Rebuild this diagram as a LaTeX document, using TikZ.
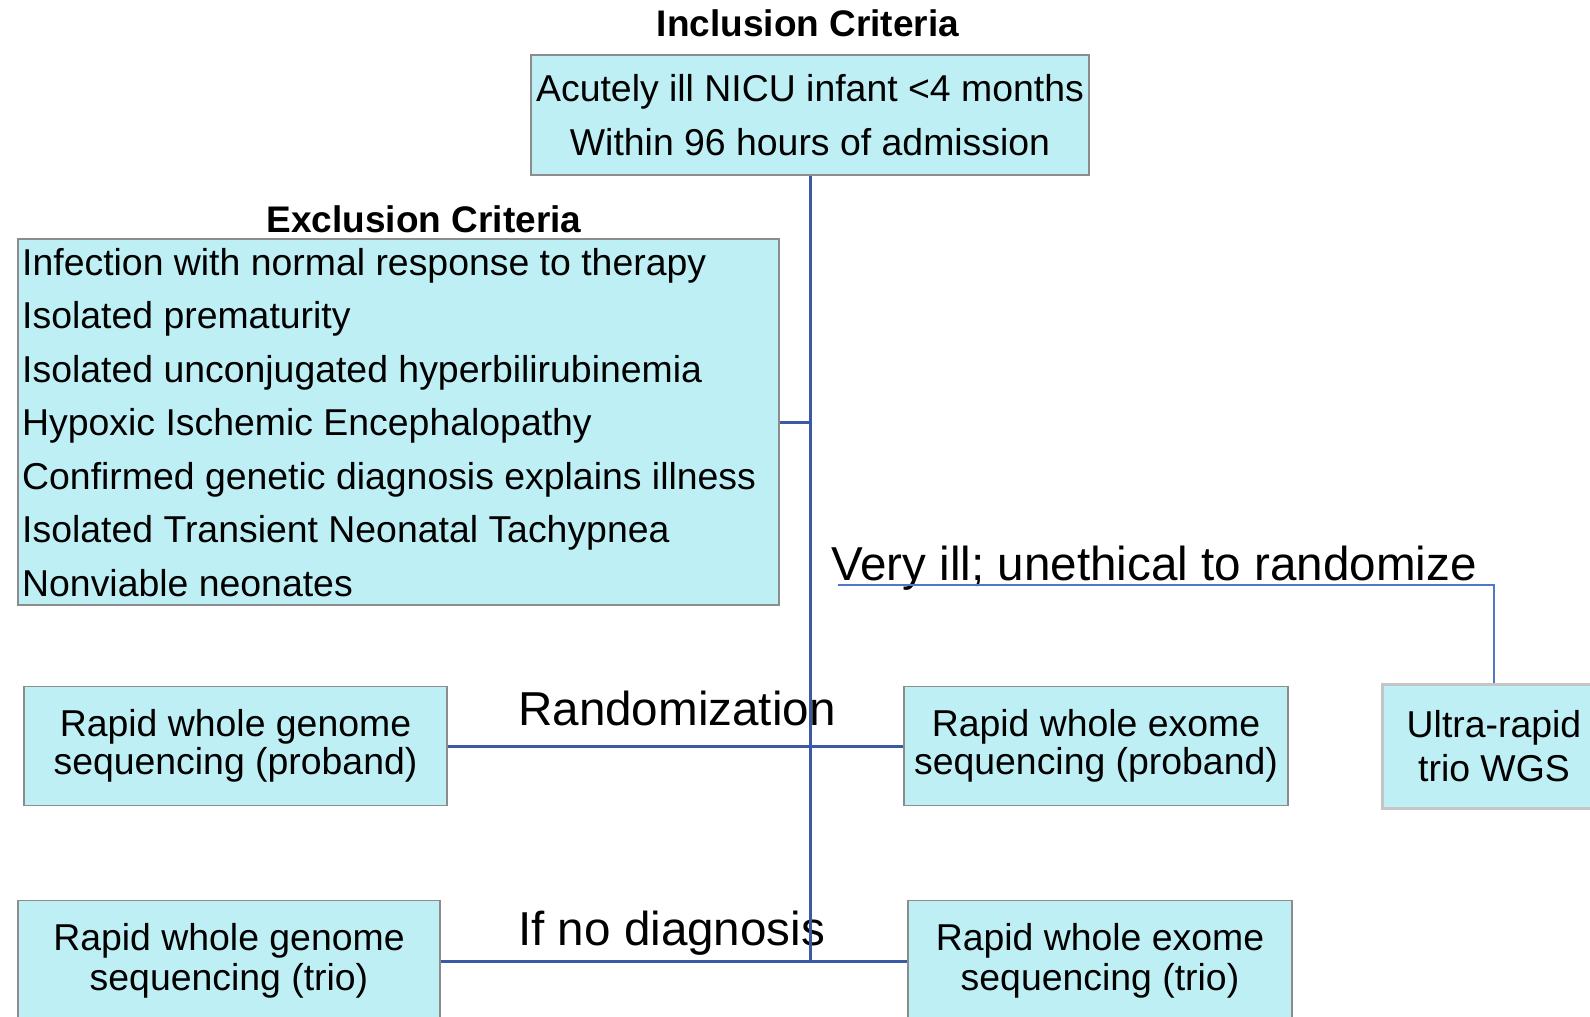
\documentclass[tikz,border=0pt]{standalone}
\usepackage{fontspec}
\setmainfont{Liberation Sans}
\definecolor{boxfill}{RGB}{190,239,244}
\definecolor{boxline}{RGB}{140,140,140}
\definecolor{connblue}{RGB}{58,90,166}
\definecolor{thinblue}{RGB}{80,120,200}
\begin{document}
\begin{tikzpicture}[x=1pt,y=-1pt,
  box/.style={draw=boxline, line width=1.5pt, fill=boxfill, inner sep=0pt, align=center},
  connline/.style={draw=connblue, line width=3pt},
  thinline/.style={draw=thinblue, line width=1.5pt},
  title/.style={font=\fontsize{37}{44}\selectfont\bfseries, inner sep=0pt, anchor=base},
  big/.style={font=\fontsize{47.6}{56}\selectfont, inner sep=0pt, anchor=base west},
  item/.style={font=\fontsize{37.4}{44}\selectfont, inner sep=0pt, anchor=base west}
]
\useasboundingbox (0,0) rectangle (1590,1017);
\clip (0,0) rectangle (1590,1017);
\fill[white] (0,0) rectangle (1590,1017);

% titles
\node[title] (inctitle) at (808,36) {Inclusion Criteria};
\node[title] (exctitle) at (424,232) {Exclusion Criteria};

% boxes
\node[box, minimum width=558pt, minimum height=120pt, font=\fontsize{37.4}{54}\selectfont] (inc) at (810,115) {Acutely ill NICU infant <4 months\\Within 96 hours of admission};
\node[box, minimum width=761pt, minimum height=366pt] (exc) at (398.5,422) {};
\foreach \t [count=\i] in {Infection with normal response to therapy, Isolated prematurity, Isolated unconjugated hyperbilirubinemia, Hypoxic Ischemic Encephalopathy, Confirmed genetic diagnosis explains illness, Isolated Transient Neonatal Tachypnea, Nonviable neonates}
  \node[item] (ex\i) at (22,{275+53.5*(\i-1)}) {\t};

\node[box, minimum width=423pt, minimum height=119pt, font=\fontsize{37.4}{38.5}\selectfont] (rgp) at (235.5,746) {Rapid whole genome\\sequencing (proband)};
\node[box, minimum width=384pt, minimum height=119pt, font=\fontsize{37.4}{38.5}\selectfont] (rep) at (1096,746) {Rapid whole exome\\sequencing (proband)};
\node[box, draw=boxline!50, line width=3pt, minimum width=224pt, minimum height=124pt, font=\fontsize{37.4}{44}\selectfont] (ultra) at (1494,746) {Ultra-rapid\\trio WGS};
\node[box, minimum width=422pt, minimum height=121pt, font=\fontsize{37.4}{39.5}\selectfont] (rgt) at (229,961) {Rapid whole genome\\sequencing (trio)};
\node[box, minimum width=384pt, minimum height=121pt, font=\fontsize{37.4}{39.5}\selectfont] (ret) at (1100,961) {Rapid whole exome\\sequencing (trio)};

% labels
\node[big] (rand) at (518,725) {Randomization};
\node[big] (nodiag) at (518,945) {If no diagnosis};
\node[big] (veryill) at (831,580) {Very ill; unethical to randomize};

% connectors
\draw[connline] (inc.south) -- (inc.south |- rgt.east);
\draw[connline] (exc.east) -- (exc.east -| inc.south);
\draw[connline] (rgp.east) -- (rep.west);
\draw[connline] (rgt.east) -- (ret.west);
\coordinate (vstart) at (838,585);
\draw[thinline] (vstart) -- (vstart -| ultra.north) -- (ultra.north);
\end{tikzpicture}
\end{document}
